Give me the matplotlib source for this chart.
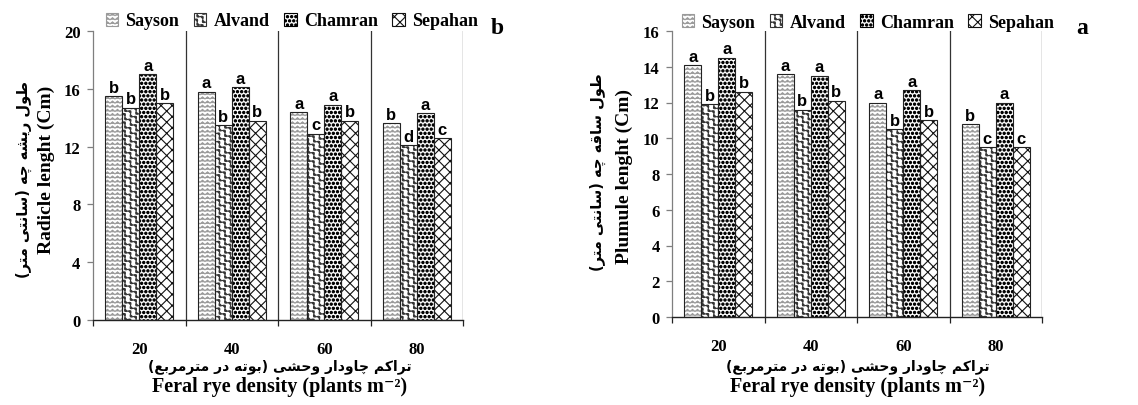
import warnings
warnings.filterwarnings('ignore')
import numpy as np
import matplotlib
matplotlib.use('Agg')
import matplotlib.pyplot as plt
import matplotlib.patches as mpatches
from matplotlib import hatch as mhatch
from matplotlib.path import Path

# ---------------- data ----------------
density_labels = ['20', '40', '60', '80']
cultivars = ['Sayson', 'Alvand', 'Chamran', 'Sepahan']

radicle_sayson = [15.5, 15.8, 14.4, 13.6]
radicle_alvand = [14.7, 13.5, 12.9, 12.1]
radicle_chamran = [17.0, 16.1, 14.9, 14.3]
radicle_sepahan = [15.0, 13.8, 13.8, 12.6]
radicle_sayson_letters = ['b', 'a', 'a', 'b']
radicle_alvand_letters = ['b', 'b', 'c', 'd']
radicle_chamran_letters = ['a', 'a', 'a', 'a']
radicle_sepahan_letters = ['b', 'b', 'b', 'c']

plumule_sayson = [14.1, 13.6, 12.0, 10.8]
plumule_alvand = [11.9, 11.6, 10.5, 9.5]
plumule_chamran = [14.5, 13.5, 12.7, 12.0]
plumule_sepahan = [12.6, 12.1, 11.0, 9.5]
plumule_sayson_letters = ['a', 'a', 'a', 'b']
plumule_alvand_letters = ['b', 'b', 'b', 'c']
plumule_chamran_letters = ['a', 'a', 'a', 'a']
plumule_sepahan_letters = ['b', 'b', 'b', 'c']

radicle_yticks = [0, 4, 8, 12, 16, 20]
plumule_yticks = [0, 2, 4, 6, 8, 10, 12, 14, 16]

radicle_label_fa = 'طول ریشه چه (سانتی متر)'
radicle_label_en = 'Radicle lenght (Cm)'
plumule_label_fa = 'طول ساقه چه (سانتی متر)'
plumule_label_en = 'Plumule lenght (Cm)'
xlabel_fa = 'تراکم چاودار وحشی (بوته در مترمربع)'
xlabel_en = 'Feral rye density (plants m⁻²)'

# ---------------- custom hatch patterns ----------------
class ZigzagHatch(mhatch.HatchPatternBase):
    periods = 20
    def __init__(self, hatch, density):
        self.num_rows = hatch.count('z') * density
        self.n = 2 * self.periods + 1
        self.num_vertices = self.num_rows * self.n
    def set_vertices_and_codes(self, vertices, codes):
        n = self.n
        xs = np.linspace(0.0, 1.0, n)
        sgn = np.where(np.arange(n) % 2 == 0, -1.0, 1.0)
        step = 1.0 / self.num_rows
        for r in range(self.num_rows):
            y0 = (r + 0.5) * step
            vertices[r*n:(r+1)*n, 0] = xs
            vertices[r*n:(r+1)*n, 1] = y0 + 0.25 * step * sgn
            codes[r*n] = Path.MOVETO
            codes[r*n+1:(r+1)*n] = Path.LINETO

class DiagWaveHatch(mhatch.HatchPatternBase):
    waves = 18
    per = 8
    def __init__(self, hatch, density):
        self.num_lines = hatch.count('w') * density
        self.n = self.waves * self.per + 1
        self.count = 2 * self.num_lines + 1 if self.num_lines else 0
        self.num_vertices = self.count * self.n
    def set_vertices_and_codes(self, vertices, codes):
        n = self.n
        s = np.linspace(0.0, 1.0, n)
        wig = 0.022 * np.sin(2 * np.pi * self.waves * s) / np.sqrt(2)
        offs = np.arange(-self.num_lines, self.num_lines + 1) / self.num_lines
        for r, c in enumerate(offs):
            vertices[r*n:(r+1)*n, 0] = s + wig
            vertices[r*n:(r+1)*n, 1] = 1.0 - s + c + wig
            codes[r*n] = Path.MOVETO
            codes[r*n+1:(r+1)*n] = Path.LINETO

class BigDots(mhatch.Circles):
    size = 0.27
    filled = True
    def __init__(self, hatch, density):
        self.num_rows = hatch.count('d') * density
        super().__init__(hatch, density)

mhatch._hatch_types.extend([ZigzagHatch, DiagWaveHatch, BigDots])

# ---------------- simple Persian shaping ----------------
_FORMS = {
    'ا': ('\uFE8D', '\uFE8E', None, None),
    'ب': ('\uFE8F', '\uFE90', '\uFE91', '\uFE92'),
    'ت': ('\uFE95', '\uFE96', '\uFE97', '\uFE98'),
    'ح': ('\uFEA1', '\uFEA2', '\uFEA3', '\uFEA4'),
    'د': ('\uFEA9', '\uFEAA', None, None),
    'ر': ('\uFEAD', '\uFEAE', None, None),
    'س': ('\uFEB1', '\uFEB2', '\uFEB3', '\uFEB4'),
    'ش': ('\uFEB5', '\uFEB6', '\uFEB7', '\uFEB8'),
    'ط': ('\uFEC1', '\uFEC2', '\uFEC3', '\uFEC4'),
    'ع': ('\uFEC9', '\uFECA', '\uFECB', '\uFECC'),
    'ق': ('\uFED5', '\uFED6', '\uFED7', '\uFED8'),
    'ل': ('\uFEDD', '\uFEDE', '\uFEDF', '\uFEE0'),
    'م': ('\uFEE1', '\uFEE2', '\uFEE3', '\uFEE4'),
    'ن': ('\uFEE5', '\uFEE6', '\uFEE7', '\uFEE8'),
    'ه': ('\uFEE9', '\uFEEA', '\uFEEB', '\uFEEC'),
    'و': ('\uFEED', '\uFEEE', None, None),
    '\u0686': ('\uFB7A', '\uFB7B', '\uFB7C', '\uFB7D'),
    '\u06A9': ('\uFB8E', '\uFB8F', '\uFB90', '\uFB91'),
    '\u06CC': ('\uFBFC', '\uFBFD', '\uFBFE', '\uFBFF'),
}
_NORM = {'\u064A': '\u06CC', '\u0649': '\u06CC', '\u0643': '\u06A9'}

def shape_fa(text):
    s = [_NORM.get(c, c) for c in text]
    def dual(c):
        return c in _FORMS and _FORMS[c][2] is not None
    out = []
    for i, c in enumerate(s):
        if c not in _FORMS:
            out.append(c)
            continue
        prev_c = s[i-1] if i > 0 else ''
        next_c = s[i+1] if i + 1 < len(s) else ''
        jp = dual(prev_c)
        jn = dual(c) and next_c in _FORMS
        iso, fin, ini, med = _FORMS[c]
        if jp and jn:
            out.append(med)
        elif jp:
            out.append(fin)
        elif jn:
            out.append(ini)
        else:
            out.append(iso)
    vis = ''.join(reversed(out))
    return vis.translate(str.maketrans({'(': ')', ')': '('}))

# ---------------- style ----------------
plt.rcParams['hatch.linewidth'] = 0.8
SERIF = ['Liberation Serif', 'DejaVu Serif']
FA = ['DejaVu Sans']
styles = [('zzzz', '#9a9a9a'), ('ww', '#333333'), ('dddd', '#000000'), ('xxx', '#111111')]
BAR_W = 0.183

fig = plt.figure(figsize=(11.38, 4.06), dpi=100)
ax1 = fig.add_axes([93/1138, 1-321/406, 370/1138, 289/406])
ax2 = fig.add_axes([672/1138, 1-318/406, 370/1138, 286/406])

def draw_panel(ax, series, letters, yticks):
    x = np.arange(len(density_labels))
    for j, (vals, lets, (h, hc)) in enumerate(zip(series, letters, styles)):
        xs = x + (j - 1.5) * BAR_W
        ax.bar(xs, vals, BAR_W, color='white', edgecolor=hc, hatch=h, linewidth=0, zorder=2)
        ax.bar(xs, vals, BAR_W, fill=False, edgecolor='#222222', linewidth=0.8, zorder=3)
        for xi, v, l in zip(xs, vals, lets):
            ax.annotate(l, (xi, v), xytext=(0, 1), textcoords='offset points',
                        ha='center', va='bottom', fontsize=12, fontweight='bold',
                        family='Liberation Sans', zorder=4)
    ax.set_xlim(-0.5, len(density_labels) - 0.5)
    ax.set_ylim(yticks[0], yticks[-1])
    for b in np.arange(0.5, len(density_labels), 1.0):
        ax.axvline(b, color='#333333', lw=0.9, zorder=1)
    ax.spines['top'].set_visible(False)
    ax.spines['right'].set_visible(False)
    ax.spines['left'].set_color('#7f7f7f')
    ax.spines['left'].set_linewidth(0.9)
    ax.spines['bottom'].set_color('#222222')
    ax.spines['bottom'].set_linewidth(1.0)
    ax.set_xticks(x, density_labels)
    ax.set_xticks(np.arange(-0.5, len(density_labels), 1.0), minor=True)
    ax.tick_params(axis='x', which='major', length=0, pad=15)
    ax.tick_params(axis='x', which='minor', length=4, width=0.9, color='#222222', direction='out')
    ax.set_yticks(yticks)
    ax.tick_params(axis='y', length=4, width=0.9, color='#7f7f7f', direction='out', pad=5)
    for lab in ax.get_xticklabels() + ax.get_yticklabels():
        lab.set_fontfamily(SERIF)
        lab.set_fontweight('bold')
        lab.set_fontsize(12)

draw_panel(ax1, [radicle_sayson, radicle_alvand, radicle_chamran, radicle_sepahan],
           [radicle_sayson_letters, radicle_alvand_letters, radicle_chamran_letters, radicle_sepahan_letters],
           radicle_yticks)
draw_panel(ax2, [plumule_sayson, plumule_alvand, plumule_chamran, plumule_sepahan],
           [plumule_sayson_letters, plumule_alvand_letters, plumule_chamran_letters, plumule_sepahan_letters],
           plumule_yticks)

handles = [mpatches.Patch(facecolor='white', edgecolor=hc, hatch=h, linewidth=0.8, label=c)
           for c, (h, hc) in zip(cultivars, styles)]
for ax, cx, cy in [(ax1, 292/1138, 1-22/406), (ax2, 868/1138, 1-23/406)]:
    ax.legend(handles=handles, loc='center', bbox_to_anchor=(cx, cy), bbox_transform=fig.transFigure,
              ncol=4, frameon=False, prop={'family': SERIF, 'weight': 'bold', 'size': 13},
              handlelength=0.7, handleheight=0.7, handletextpad=0.4, columnspacing=0.8, borderpad=0)

# panel letters
fig.text(497/1138, 1-28/406, 'b', ha='center', va='center', fontsize=17, fontweight='bold', family=SERIF)
fig.text(1082/1138, 1-28/406, 'a', ha='center', va='center', fontsize=17, fontweight='bold', family=SERIF)

# y labels
fig.text(24/1138, 1-180/406, shape_fa(radicle_label_fa), rotation=90, ha='center', va='center',
         fontsize=10.5, fontweight='bold', family=FA)
fig.text(46/1138, 1-170/406, radicle_label_en, rotation=90, ha='center', va='center',
         fontsize=14, fontweight='bold', family=SERIF)
fig.text(598/1138, 1-172/406, shape_fa(plumule_label_fa), rotation=90, ha='center', va='center',
         fontsize=10.5, fontweight='bold', family=FA)
fig.text(624/1138, 1-176/406, plumule_label_en, rotation=90, ha='center', va='center',
         fontsize=14, fontweight='bold', family=SERIF)

# x labels
for cx in (280/1138, 858/1138):
    fig.text(cx, 1-367/406, shape_fa(xlabel_fa), ha='center', va='center',
             fontsize=10, fontweight='bold', family=FA)
    fig.text(cx, 1-387/406, xlabel_en, ha='center', va='center',
             fontsize=14.5, fontweight='bold', family=SERIF)

fig.savefig('out.png', dpi=100)
